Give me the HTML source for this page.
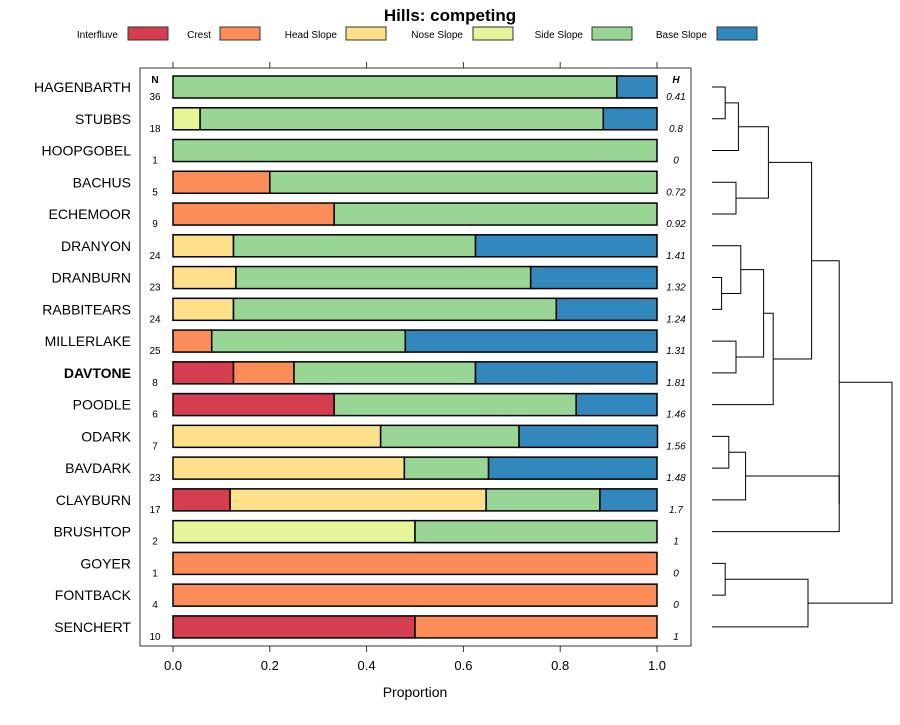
<!DOCTYPE html>
<html><head><meta charset="utf-8"><style>
body{margin:0;background:#fff;font-family:"Liberation Sans",sans-serif}
</style></head><body>
<svg id="c" width="900" height="720" xmlns="http://www.w3.org/2000/svg" font-family="Liberation Sans, sans-serif"></svg>
<script>
const names=["HAGENBARTH","STUBBS","HOOPGOBEL","BACHUS","ECHEMOOR","DRANYON","DRANBURN","RABBITEARS","MILLERLAKE","DAVTONE","POODLE","ODARK","BAVDARK","CLAYBURN","BRUSHTOP","GOYER","FONTBACK","SENCHERT"];
const classes=["Interfluve","Crest","Head Slope","Nose Slope","Side Slope","Base Slope"];
const interfluve=[0,0,0,0,0,0,0,0,0,0.125,0.333,0,0,0.118,0,0,0,0.5];
const crest=[0,0,0,0.2,0.333,0,0,0,0.08,0.125,0,0,0,0,0,1,1,0.5];
const headSlope=[0,0,0,0,0,0.125,0.13,0.125,0,0,0,0.429,0.478,0.529,0,0,0,0];
const noseSlope=[0,0.056,0,0,0,0,0,0,0,0,0,0,0,0,0.5,0,0,0];
const sideSlope=[0.917,0.833,1,0.8,0.667,0.5,0.609,0.667,0.4,0.375,0.5,0.286,0.174,0.235,0.5,0,0,0];
const baseSlope=[0.083,0.111,0,0,0,0.375,0.261,0.208,0.52,0.375,0.167,0.286,0.348,0.118,0,0,0,0];
const nVals=[36,18,1,5,9,24,23,24,25,8,6,7,23,17,2,1,4,10];
const hVals=["0.41","0.8","0","0.72","0.92","1.41","1.32","1.24","1.31","1.81","1.46","1.56","1.48","1.7","1","0","0","1"];
const xTicks=[0,0.2,0.4,0.6,0.8,1.0];
const xTickLabels=["0.0","0.2","0.4","0.6","0.8","1.0"];
const colors=["#D53E4F","#FC8D59","#FEE08B","#E6F598","#99D594","#3288BD"];
const series=[interfluve,crest,headSlope,noseSlope,sideSlope,baseSlope];
// dendrogram merges: [leftNode, rightNode, height]; leaves are 0..17, merges are 18+
const merges=[[0,1,0.11],[18,2,0.22],[3,4,0.2],[19,20,0.47],[6,7,0.08],[5,22,0.24],[8,9,0.2],[23,24,0.43],[25,10,0.51],[21,26,0.83],[11,12,0.14],[28,13,0.28],[29,14,1.06],[27,30,1.06],[15,16,0.11],[32,17,0.8],[31,33,1.5]];

const S=document.getElementById('c');const NS="http://www.w3.org/2000/svg";
function el(t,a,txt){const e=document.createElementNS(NS,t);for(const k in a)e.setAttribute(k,a[k]);if(txt!==undefined)e.textContent=txt;S.appendChild(e);return e;}
const x=v=>173+v*484;
const y=i=>87+i*31.76;
const dx=h=>712+h*(892-712)/1.5;

let t=el('text',{x:450,y:21,'text-anchor':'middle','font-size':17,'font-weight':'bold'},'Hills: competing');

const legTx=[118,211,337,463,583,707],legBx=[128,220,346,473,592,717];
classes.forEach((c,k)=>{
 let a=el('text',{x:legTx[k],y:38,'text-anchor':'end','font-size':10},c);
 
 let b=el('rect',{x:legBx[k],y:27,width:40,height:13,fill:colors[k],stroke:'#333','stroke-width':1});
 
});
let p=el('rect',{x:140,y:68,width:551,height:578,fill:'none',stroke:'#333','stroke-width':1});

xTicks.forEach((v,k)=>{
 el('line',{x1:x(v),x2:x(v),y1:62,y2:68,stroke:'#333'});
 el('line',{x1:x(v),x2:x(v),y1:646,y2:652,stroke:'#333'});
 let l=el('text',{x:x(v),y:670,'text-anchor':'middle','font-size':13},xTickLabels[k]);
 
});
let xl=el('text',{x:415,y:697,'text-anchor':'middle','font-size':14},'Proportion');

el('text',{x:155,y:83,'text-anchor':'middle','font-size':10,'font-weight':'bold'},'N');
el('text',{x:676,y:83,'text-anchor':'middle','font-size':10,'font-weight':'bold','font-style':'italic'},'H');
names.forEach((n,i)=>{
 let l=el('text',{x:131,y:y(i)+5,'text-anchor':'end','font-size':14,'font-weight':n==='DAVTONE'?'bold':'normal'},n);
 
 let acc=0;
 series.forEach((s,k)=>{
  if(s[i]>0){
   let r=el('rect',{x:x(acc),y:y(i)-11,width:x(acc+s[i])-x(acc),height:22,fill:colors[k],stroke:'#000','stroke-width':1.5});
   
   acc+=s[i];
  }
 });
 el('text',{x:155,y:y(i)+13,'text-anchor':'middle','font-size':10},nVals[i]);
 el('text',{x:676,y:y(i)+13,'text-anchor':'middle','font-size':10,'font-style':'italic'},hVals[i]);
});
// dendrogram
const pos={};names.forEach((n,i)=>pos[i]={y:y(i),h:0});
merges.forEach((m,k)=>{
 const a=pos[m[0]],b=pos[m[1]],hx=dx(m[2]);
 let g=el('path',{d:`M${dx(a.h)},${a.y}H${hx}V${b.y}H${dx(b.h)}`,fill:'none',stroke:'#000','stroke-width':1});
 
 pos[18+k]={y:(a.y+b.y)/2,h:m[2]};
});
</script>
</body></html>
